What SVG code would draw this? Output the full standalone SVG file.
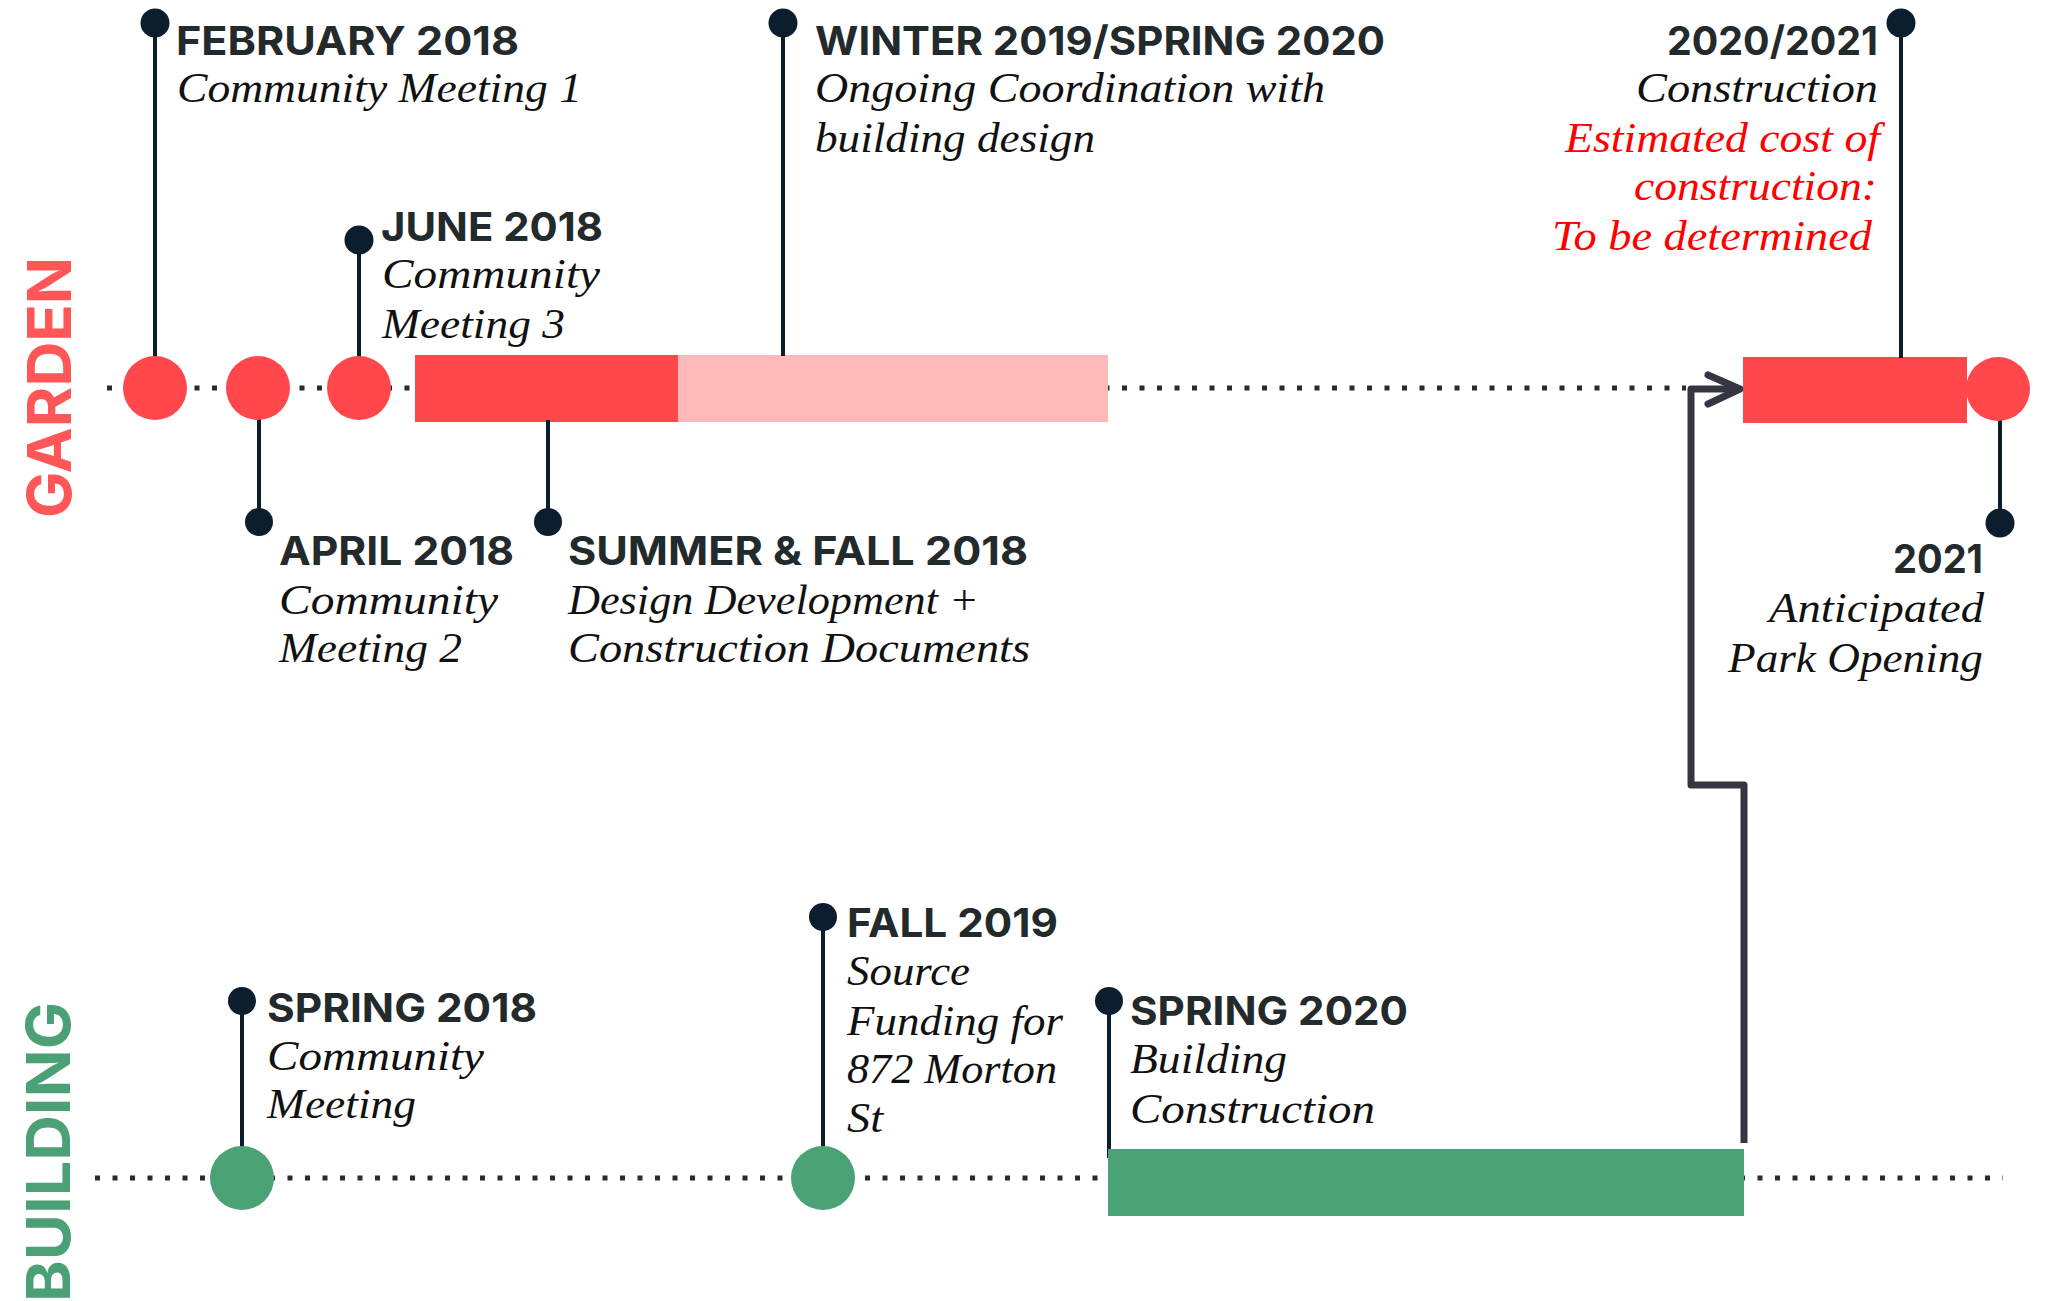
<svg xmlns="http://www.w3.org/2000/svg" width="2046" height="1301" viewBox="0 0 2046 1301">
<defs>
<style>
.h{font-family:Inter,"DejaVu Sans",sans-serif;font-weight:700;font-size:40px;fill:#232A2C}
.b{font-family:"Liberation Serif",serif;font-style:italic;font-size:42px;fill:#111}
.r{fill:#FF0000}
.e{text-anchor:end}
.lane{font-family:Inter,"DejaVu Sans",sans-serif;font-weight:700;font-size:61px}
.pin{stroke:#0C1E2E;stroke-width:4;fill:none}
.dot{fill:#0C1E2E}
.red{fill:#FF474C}
.green{fill:#4BA275}
.dots{stroke:#2A2A2A;stroke-width:5;stroke-dasharray:5 12.5;fill:none}
</style>
</defs>
<rect width="2046" height="1301" fill="#fff"/>

<g id="lanes">
<text class="lane" fill="#FF5757" transform="translate(71,518) rotate(-90)" textLength="261" lengthAdjust="spacingAndGlyphs">GARDEN</text>
<text class="lane" fill="#4CA075" text-anchor="end" transform="translate(70,1002) rotate(-90)" textLength="300" lengthAdjust="spacingAndGlyphs">BUILDING</text>
</g>

<g id="connectors">
<line class="dots" x1="107" y1="388" x2="1686" y2="388"/>
<line class="dots" x1="95" y1="1178" x2="2003" y2="1178"/>
<path d="M1744,1143 V785 H1691 V389 H1738" fill="none" stroke="#353642" stroke-width="7" stroke-linejoin="round"/>
<path d="M1708,375 L1740,389 L1708,404" fill="none" stroke="#353642" stroke-width="7" stroke-linecap="round" stroke-linejoin="round"/>
</g>

<g id="feb2018">
<line class="pin" x1="155" y1="23" x2="155" y2="360"/>
<circle class="dot" cx="155" cy="23" r="14.5"/>
<circle class="red" cx="155" cy="388" r="32"/>
<text class="h" x="176" y="55" textLength="343" lengthAdjust="spacingAndGlyphs">FEBRUARY 2018</text>
<text class="b" x="177" y="102" textLength="405" lengthAdjust="spacingAndGlyphs">Community Meeting 1</text>
</g>

<g id="apr2018">
<line class="pin" x1="259" y1="415" x2="259" y2="522"/>
<circle class="dot" cx="259" cy="522" r="14"/>
<circle class="red" cx="258" cy="388" r="32"/>
<text class="h" x="279" y="565" textLength="235" lengthAdjust="spacingAndGlyphs">APRIL 2018</text>
<text class="b" x="279" y="614" textLength="219" lengthAdjust="spacingAndGlyphs">Community</text>
<text class="b" x="279" y="662" textLength="183" lengthAdjust="spacingAndGlyphs">Meeting 2</text>
</g>

<g id="jun2018">
<line class="pin" x1="359" y1="240" x2="359" y2="360"/>
<circle class="dot" cx="359" cy="240" r="14.5"/>
<circle class="red" cx="359" cy="388" r="32"/>
<text class="h" x="381" y="241" textLength="222" lengthAdjust="spacingAndGlyphs">JUNE 2018</text>
<text class="b" x="382" y="288" textLength="218" lengthAdjust="spacingAndGlyphs">Community</text>
<text class="b" x="382" y="338" textLength="183" lengthAdjust="spacingAndGlyphs">Meeting 3</text>
</g>

<g id="summerfall2018">
<rect class="red" x="415" y="355" width="263" height="67"/>
<line class="pin" x1="548" y1="420" x2="548" y2="522"/>
<circle class="dot" cx="548" cy="522" r="14"/>
<text class="h" x="568" y="565" textLength="460" lengthAdjust="spacingAndGlyphs">SUMMER &amp; FALL 2018</text>
<text class="b" x="568" y="614" textLength="411" lengthAdjust="spacingAndGlyphs">Design Development +</text>
<text class="b" x="568" y="662" textLength="462" lengthAdjust="spacingAndGlyphs">Construction Documents</text>
</g>

<g id="winter2019">
<rect x="678" y="355" width="430" height="67" fill="#FFB8B8"/>
<line class="pin" x1="783" y1="23" x2="783" y2="356"/>
<circle class="dot" cx="783" cy="23" r="14.5"/>
<text class="h" x="815" y="55" textLength="570" lengthAdjust="spacingAndGlyphs">WINTER 2019/SPRING 2020</text>
<text class="b" x="815" y="102" textLength="510" lengthAdjust="spacingAndGlyphs">Ongoing Coordination with</text>
<text class="b" x="815" y="152" textLength="280" lengthAdjust="spacingAndGlyphs">building design</text>
</g>

<g id="construction2020">
<rect class="red" x="1743" y="357" width="224" height="66"/>
<line class="pin" x1="1901" y1="23" x2="1901" y2="358"/>
<circle class="dot" cx="1901" cy="23" r="14.5"/>
<text class="h e" x="1878" y="55" textLength="211" lengthAdjust="spacingAndGlyphs">2020/2021</text>
<text class="b e" x="1878" y="102" textLength="242" lengthAdjust="spacingAndGlyphs">Construction</text>
<text class="b e r" x="1880" y="152" textLength="315" lengthAdjust="spacingAndGlyphs">Estimated cost of</text>
<text class="b e r" x="1877" y="200" textLength="243" lengthAdjust="spacingAndGlyphs">construction:</text>
<text class="b e r" x="1872" y="250" textLength="320" lengthAdjust="spacingAndGlyphs">To be determined</text>
</g>

<g id="opening2021">
<line class="pin" x1="2000" y1="415" x2="2000" y2="523"/>
<circle class="red" cx="1998" cy="389" r="32"/>
<circle class="dot" cx="2000" cy="523" r="14.5"/>
<text class="h e" x="1983" y="573" textLength="90" lengthAdjust="spacingAndGlyphs">2021</text>
<text class="b e" x="1984" y="622" textLength="215" lengthAdjust="spacingAndGlyphs">Anticipated</text>
<text class="b e" x="1983" y="672" textLength="255" lengthAdjust="spacingAndGlyphs">Park Opening</text>
</g>

<g id="spring2018">
<line class="pin" x1="242" y1="1001" x2="242" y2="1150"/>
<circle class="dot" cx="242" cy="1001" r="14"/>
<circle class="green" cx="242" cy="1178" r="32"/>
<text class="h" x="267" y="1022" textLength="270" lengthAdjust="spacingAndGlyphs">SPRING 2018</text>
<text class="b" x="267" y="1070" textLength="217" lengthAdjust="spacingAndGlyphs">Community</text>
<text class="b" x="267" y="1118" textLength="149" lengthAdjust="spacingAndGlyphs">Meeting</text>
</g>

<g id="fall2019">
<line class="pin" x1="823" y1="917" x2="823" y2="1150"/>
<circle class="dot" cx="823" cy="917" r="14"/>
<circle class="green" cx="823" cy="1178" r="32"/>
<text class="h" x="847" y="937" textLength="211" lengthAdjust="spacingAndGlyphs">FALL 2019</text>
<text class="b" x="847" y="985" textLength="123" lengthAdjust="spacingAndGlyphs">Source</text>
<text class="b" x="847" y="1035" textLength="216" lengthAdjust="spacingAndGlyphs">Funding for</text>
<text class="b" x="847" y="1083" textLength="210" lengthAdjust="spacingAndGlyphs">872 Morton</text>
<text class="b" x="847" y="1132" textLength="36" lengthAdjust="spacingAndGlyphs">St</text>
</g>

<g id="spring2020">
<line class="pin" x1="1109" y1="1001" x2="1109" y2="1158"/>
<circle class="dot" cx="1109" cy="1001" r="14"/>
<rect class="green" x="1108" y="1149" width="636" height="67"/>
<text class="h" x="1130" y="1025" textLength="278" lengthAdjust="spacingAndGlyphs">SPRING 2020</text>
<text class="b" x="1130" y="1073" textLength="157" lengthAdjust="spacingAndGlyphs">Building</text>
<text class="b" x="1130" y="1123" textLength="245" lengthAdjust="spacingAndGlyphs">Construction</text>
</g>
</svg>
